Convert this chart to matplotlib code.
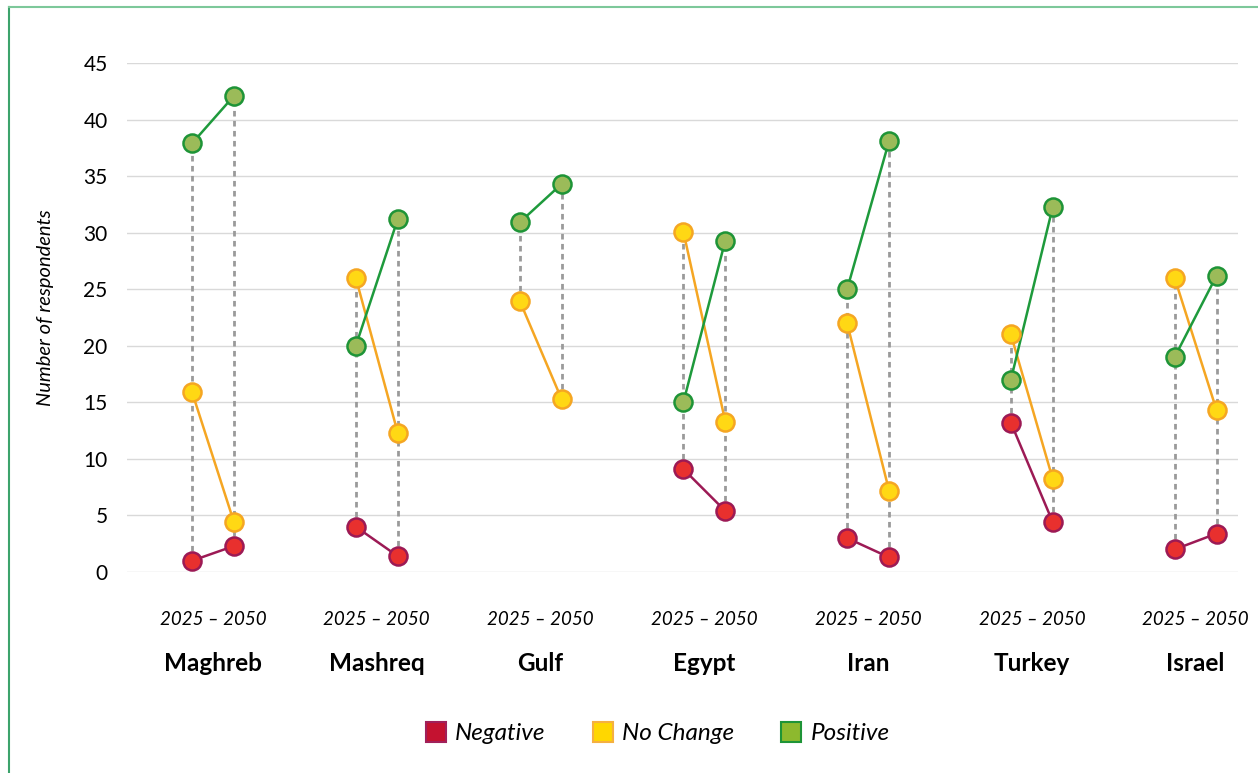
import numpy as np
import matplotlib.pyplot as plt
from matplotlib.lines import Line2D

plt.rcParams["font.family"] = ["Lato", "DejaVu Sans"]

regions = ["Maghreb", "Mashreq", "Gulf", "Egypt", "Iran", "Turkey", "Israel"]
years_label = "2025 – 2050"

# values per region: (2025, 2050)
negative_2025 = [1.0, 4.0, np.nan, 9.1, 3.0, 13.2, 2.0]
negative_2050 = [2.3, 1.4, np.nan, 5.4, 1.3, 4.4, 3.4]
nochange_2025 = [15.9, 26.0, 24.0, 30.1, 22.0, 21.0, 26.0]
nochange_2050 = [4.4, 12.3, 15.3, 13.3, 7.2, 8.2, 14.3]
positive_2025 = [37.9, 20.0, 30.9, 15.0, 25.0, 17.0, 19.0]
positive_2050 = [42.1, 31.2, 34.3, 29.3, 38.1, 32.3, 26.2]

series = [
    ("Negative", negative_2025, negative_2050, "#E8302E", "#9C1A55", "#9C1A55"),
    ("No Change", nochange_2025, nochange_2050, "#FFD814", "#F5A623", "#F5A623"),
    ("Positive", positive_2025, positive_2050, "#9BBB59", "#1E9437", "#1E9A3C"),
]
legend_faces = ["#C41230", "#FFD700", "#8DB92E"]
legend_edges = ["#A0205A", "#F5B041", "#1E9437"]

fig = plt.figure(figsize=(12.58, 7.73), dpi=100)
ax = fig.add_axes([0.101, 0.26, 0.883, 0.6585])

x = np.arange(len(regions))
off = 0.128
x1 = x - off
x2 = x + off

# drop lines (high-low)
all1 = np.array([s[1] for s in series], dtype=float)
all2 = np.array([s[2] for s in series], dtype=float)
for xs, vals in [(x1, all1), (x2, all2)]:
    ax.vlines(xs, np.nanmin(vals, axis=0), np.nanmax(vals, axis=0),
              colors="#9A9A9A", linestyles=(0, (2, 1.6)), linewidth=2, zorder=2)

for name, v1, v2, face, edge, line in series:
    for i in range(len(regions)):
        if np.isnan(v1[i]):
            continue
        ax.plot([x1[i], x2[i]], [v1[i], v2[i]], color=line, lw=1.8, zorder=3)
        ax.plot([x1[i], x2[i]], [v1[i], v2[i]], ls="none", marker="o",
                markersize=13, markerfacecolor=face, markeredgecolor=edge,
                markeredgewidth=1.8, zorder=4, clip_on=False)

ax.set_ylim(0, 45)
ax.set_xlim(-0.525, 6.258)
ax.set_yticks(range(0, 46, 5))
ax.yaxis.grid(True, color="#D9D9D9", lw=1)
ax.set_axisbelow(True)
for sp in ax.spines.values():
    sp.set_visible(False)
ax.tick_params(axis="y", length=0, labelsize=15, pad=14)
ax.set_xticks(x)
ax.set_xticklabels([years_label] * len(regions), style="italic", fontsize=13.5)
ax.tick_params(axis="x", length=0, pad=28)
ax.set_ylabel("Number of respondents", style="italic", fontsize=14.5)
ax.yaxis.set_label_coords(-0.066, 0.52)

for i, r in enumerate(regions):
    ax.text(x[i], -0.18, r, transform=ax.get_xaxis_transform(), ha="center",
            va="center", fontsize=17.5, fontweight="bold")

handles = [Line2D([], [], ls="none", marker="s", markersize=14,
                  markerfacecolor=legend_faces[k], markeredgecolor=legend_edges[k],
                  markeredgewidth=1.5) for k in range(3)]
fig.legend(handles, [s[0] for s in series], loc="center", bbox_to_anchor=(0.522, 0.051),
           ncol=3, frameon=False, prop={"style": "italic", "size": 17.5},
           handletextpad=0.3, columnspacing=1.85, handlelength=1.0)

# frame lines on left and top
fig.add_artist(Line2D([9 / 1258, 9 / 1258], [0, 1 - 7 / 773], color="#3DA36C", lw=1.5))
fig.add_artist(Line2D([9 / 1258, 1], [1 - 7 / 773, 1 - 7 / 773], color="#7DC89A", lw=1.5))

fig.savefig("out.png", dpi=100)
